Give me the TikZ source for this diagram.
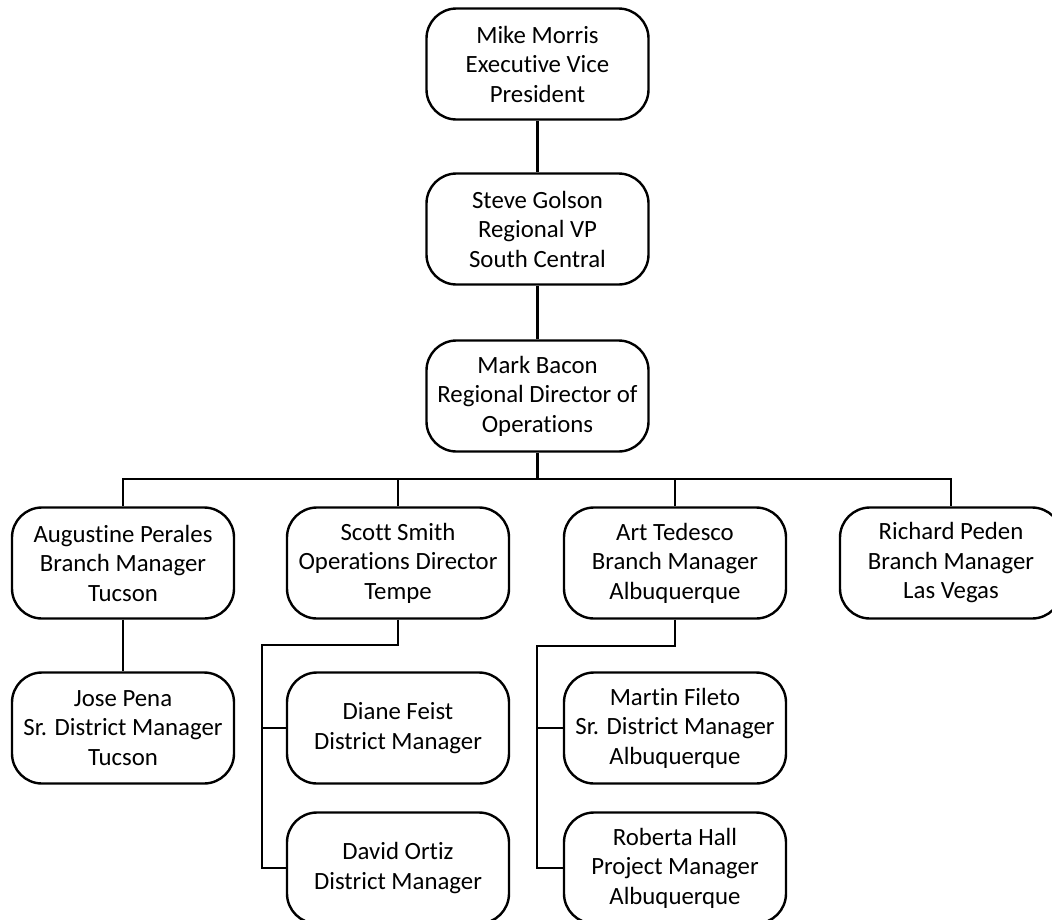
\documentclass[tikz,border=0pt]{standalone}
\usepackage{fontspec}
\setmainfont[Ligatures=NoCommon]{Carlito}
\begin{document}
\begin{tikzpicture}[x=1pt,y=-1pt,
  person/.style={draw, line width=2.4pt, rounded corners=30pt,
    minimum width=222pt, minimum height=111pt, align=center, inner sep=0pt,
    font=\fontsize{24.8}{29.5}\selectfont},
  link/.style={line width=2.4pt}]
\useasboundingbox (0,0) rectangle (1052,919);
% nodes
\node[person] (mike)  at (537.5,64)  {Mike Morris\\Executive Vice\\President};
\node[person] (steve) at (537.5,229) {Steve Golson\\Regional VP\\South Central};
\node[person] (mark)  at (537.5,396) {Mark Bacon\\Regional Director of\\Operations};
\node[person] (aug)   at (123,563)   {Augustine Perales\\Branch Manager\\Tucson};
\node[person] (scott) at (398,563)   {Scott Smith\\Operations Director\\Tempe};
\node[person] (art)   at (675,563)   {Art Tedesco\\Branch Manager\\Albuquerque};
\node[person] (rich)  at (951,563)   {Richard Peden\\Branch Manager\\Las Vegas};
\node[person] (jose)  at (123,728)   {Jose Pena\\Sr. District Manager\\Tucson};
\node[person] (diane) at (398,728)   {Diane Feist\\District Manager};
\node[person] (david) at (398,868)   {David Ortiz\\District Manager};
\node[person] (martin) at (675,728)  {Martin Fileto\\Sr. District Manager\\Albuquerque};
\node[person] (roberta) at (675,868) {Roberta Hall\\Project Manager\\Albuquerque};
% helper coordinates
\coordinate (bus) at (537.5,479);
\coordinate (sturn) at (262,645);
\coordinate (aturn) at (537,646);
% connectors
\draw[link] (mike) -- (steve);
\draw[link] (steve) -- (mark);
\draw[link] (mark.south) -- (bus);
\draw[link] (aug.north) |- (bus) -| (rich.north);
\draw[link] (scott.north) -- (scott.north |- bus);
\draw[link] (art.north) -- (art.north |- bus);
\draw[link] (aug) -- (jose);
\draw[link] (scott.south) |- (sturn) -- (sturn |- david.west) -- (david.west);
\draw[link] (diane.west) -- (diane.west -| sturn);
\draw[link] (art.south) |- (aturn) -- (aturn |- roberta.west) -- (roberta.west);
\draw[link] (martin.west) -- (martin.west -| aturn);
\end{tikzpicture}
\end{document}
